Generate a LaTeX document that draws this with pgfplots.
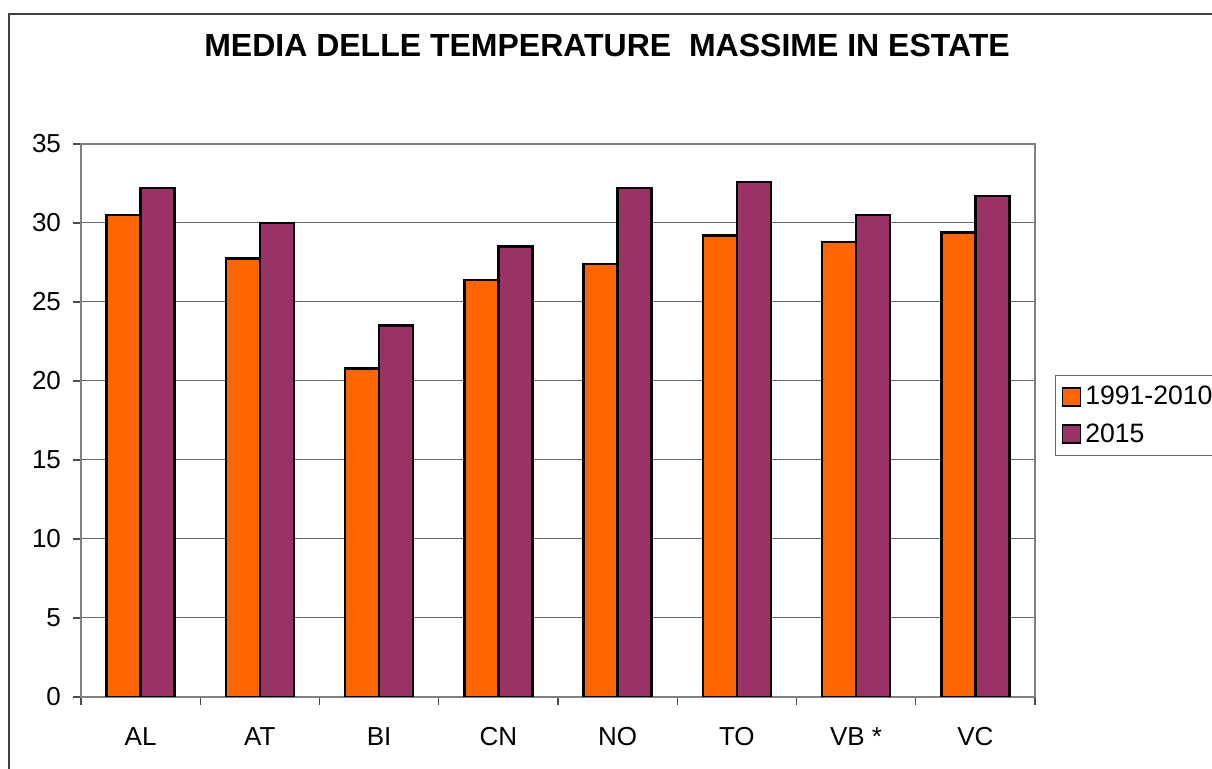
\documentclass[border=0pt]{standalone}
\usepackage{pgfplots}
\pgfplotsset{compat=1.18}
\usepackage{fontspec}
\setmainfont{Liberation Sans}
\definecolor{orng}{HTML}{FF6600}
\definecolor{plum}{HTML}{993366}
\definecolor{frame}{HTML}{404040}
\begin{document}
\begin{tikzpicture}
\useasboundingbox (0,0) rectangle (606pt,384.5pt);
\clip (0,0) rectangle (606pt,384.5pt);
\fill[white] (0,0) rectangle (606pt,384.5pt);
\draw[frame, line width=1pt] (4.5pt,-2pt) -- (4.5pt,377.5pt) -- (610pt,377.5pt);
\begin{axis}[
  at={(40.5pt,36pt)}, anchor=south west,
  width=477pt, height=276.5pt, scale only axis,
  ybar=0pt, bar width=17pt,
  xmin=-0.5, xmax=7.5, ymin=0, ymax=35,
  ytick={0,5,...,35},
  xtick={0,...,7},
  xticklabels={AL,AT,BI,CN,NO,TO,VB *,VC},
  minor xtick={-0.5,0.5,...,7.5},
  xtick pos=bottom, ytick pos=left,
  major x tick style={draw=none},
  minor x tick style={draw=gray!60!black, line width=0.6pt},
  y tick style={draw=gray!60!black, line width=0.6pt},
  tick align=outside, major tick length=4pt, minor tick length=4pt,
  ymajorgrids, grid style={gray!80!black, line width=0.5pt},
  axis line style={draw=gray, line width=1pt},
  /pgf/number format/assume math mode=true,
  tick label style={font=\fontsize{13}{15}\selectfont},
  xticklabel style={yshift=-7pt, text height=9.5pt, text depth=0pt},
  yticklabel style={xshift=-2.5pt},
  legend cell align=left,
  legend style={at={(rel axis cs:1.021,0.509)}, anchor=west, draw=gray!80!black, line width=0.5pt,
    font=\fontsize{13.3}{16}\selectfont, row sep=4pt, inner xsep=3pt, inner ysep=3pt},
  legend image code/.code={\draw[#1, line width=0.9pt, draw=black] (0pt,-4.5pt) rectangle (9pt,4.5pt);},
  every axis plot/.append style={draw=black, line width=1.2pt},
]
\addplot[fill=orng] coordinates {(0,30.5) (1,27.75) (2,20.8) (3,26.4) (4,27.4) (5,29.2) (6,28.8) (7,29.4)};
\addplot[fill=plum] coordinates {(0,32.2) (1,30.0) (2,23.5) (3,28.5) (4,32.2) (5,32.6) (6,30.5) (7,31.7)};
\legend{1991-2010,2015}
\end{axis}
\node[font=\fontsize{16}{19}\selectfont\bfseries] at (303.5pt,361.5pt) {MEDIA DELLE TEMPERATURE\ \ MASSIME IN ESTATE};
\end{tikzpicture}
\end{document}
